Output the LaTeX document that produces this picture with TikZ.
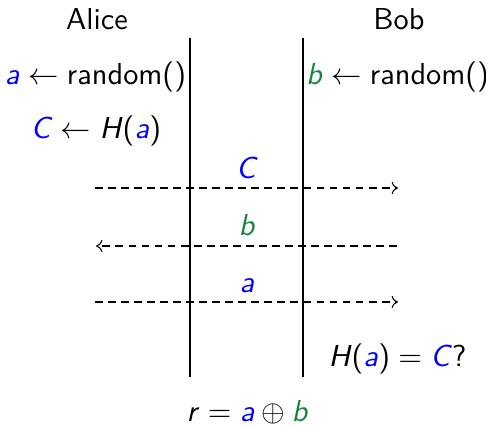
\documentclass[tikz,border=0pt]{standalone}
\usetikzlibrary{arrows.meta}
\definecolor{myblue}{RGB}{0,0,255}
\definecolor{mygreen}{RGB}{20,135,60}
\newcommand{\vb}[1]{\textcolor{myblue}{\textit{#1}}}
\newcommand{\vg}[1]{\textcolor{mygreen}{\textit{#1}}}
\newcommand{\vk}[1]{\textit{#1}}
\newcommand{\la}{${}\leftarrow{}$}
\newcommand{\eqq}{${}={}$}
\newcommand{\xo}{${}\oplus{}$}
\begin{document}
\begin{tikzpicture}[x=0.33pt,y=-0.33pt,
  txt/.style={anchor=base,inner sep=0pt,font=\sffamily},
  wall/.style={line width=0.35pt},
  msg/.style={line width=0.35pt,dash pattern=on 2.6pt off 1.7pt,-{To[length=2.1pt,width=4pt]}}]
\useasboundingbox (0,0) rectangle (486,427);
\node[txt] (alice) at (97,30) {Alice};
\node[txt] (bob) at (399,30) {Bob};
\coordinate (l1) at (190,38);
\coordinate (l2) at (190,377);
\coordinate (r1) at (303,38);
\coordinate (r2) at (303,377);
\draw[wall] (l1) -- (l2);
\draw[wall] (r1) -- (r2);
\node[txt] (arand) at (95.5,85) {\vb{a}\la random()};
\node[txt] (ch) at (96,139) {\vb{C}\la\vk{H}(\vb{a})};
\node[txt] (brand) at (397.5,85) {\vg{b}\la random()};
\coordinate (m1a) at (95,188);
\coordinate (m1b) at (398,188);
\coordinate (m2a) at (397,246);
\coordinate (m2b) at (96,246);
\coordinate (m3a) at (95,302);
\coordinate (m3b) at (398,302);
\draw[msg] (m1a) -- (m1b);
\draw[msg] (m2a) -- (m2b);
\draw[msg] (m3a) -- (m3b);
\node[txt] (lc) at (247,179) {\vb{C}};
\node[txt] (lb) at (247,236) {\vg{b}};
\node[txt] (la) at (247,293) {\vb{a}};
\node[txt] (check) at (397.5,367) {\vk{H}(\vb{a})\eqq\vb{C}?};
\node[txt] (res) at (247.5,422) {\vk{r}\eqq\vb{a}\xo\vg{b}};
\end{tikzpicture}
\end{document}
